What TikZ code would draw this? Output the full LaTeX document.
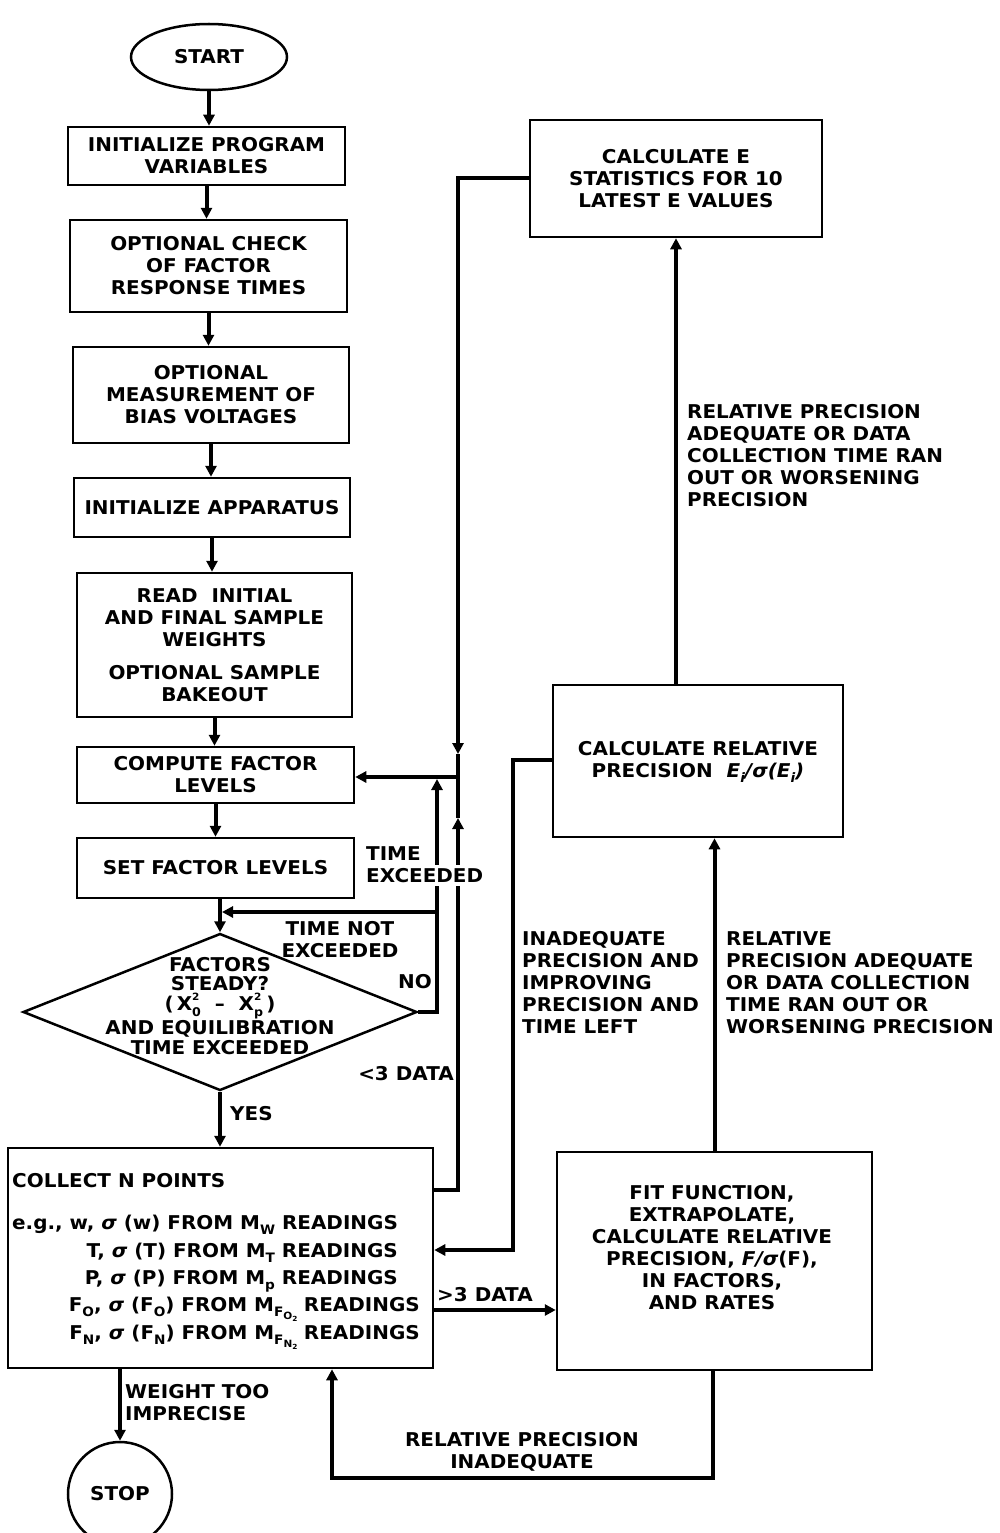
\documentclass[tikz,border=0pt]{standalone}
\usepackage{fontspec}
\setmainfont{DejaVu Sans}[FakeStretch=1.05]
\usetikzlibrary{arrows.meta,shapes.geometric,calc}
\newcommand{\sbA}[1]{\raisebox{-5pt}[0pt][0pt]{\fontsize{13}{13}\selectfont #1}}
\newcommand{\sbB}[1]{\raisebox{-3pt}[0pt][0pt]{\fontsize{10}{10}\selectfont #1}}
\newcommand{\xsubsup}[2]{\rlap{\raisebox{10pt}[0pt][0pt]{\fontsize{10}{10}\selectfont #2}}\raisebox{-6pt}[0pt][0pt]{\fontsize{12}{12}\selectfont #1}}
\begin{document}
\begin{tikzpicture}[x=1pt,y=-1pt,
  txt/.style={font=\bfseries\fontsize{19}{22}\selectfont, align=center, inner sep=0pt},
  lbl/.style={txt, align=left},
  box/.style={txt, draw, line width=2.5pt, line join=miter},
  conn/.style={line width=4pt, line join=miter},
  arr/.style={conn, -{Triangle[length=11pt,width=11pt]}}]
\useasboundingbox (0,0) rectangle (999,1533);

% ---------- left column ----------
\node[box, ellipse, minimum width=156pt, minimum height=66pt] (start) at (209,57) {START};
\node[box, minimum width=277pt, minimum height=58pt] (init) at (206.5,156) {INITIALIZE PROGRAM\\VARIABLES};
\node[box, minimum width=277pt, minimum height=92pt] (check) at (208.5,266) {OPTIONAL CHECK\\OF FACTOR\\RESPONSE TIMES};
\node[box, minimum width=276pt, minimum height=96pt] (bias) at (211,395) {OPTIONAL\\MEASUREMENT OF\\BIAS VOLTAGES};
\node[box, minimum width=276pt, minimum height=59pt] (appar) at (212,507.5) {INITIALIZE APPARATUS};
\node[box, minimum width=275pt, minimum height=144pt] (read) at (214.5,645) {READ\ \ INITIAL\\AND FINAL SAMPLE\\WEIGHTS\\[11pt]OPTIONAL SAMPLE\\BAKEOUT};
\node[box, minimum width=277pt, minimum height=56pt] (compute) at (215.5,775) {COMPUTE FACTOR\\LEVELS};
\node[box, minimum width=277pt, minimum height=60pt] (setf) at (215.5,868) {SET FACTOR LEVELS};
\node[draw, diamond, line width=2.5pt, minimum width=394pt, minimum height=157pt, inner sep=0pt] (dec) at (220,1012) {};
\node[txt, anchor=north, font=\bfseries\fontsize{19}{19.5}\selectfont] (dectxt) at (220,957)
  {FACTORS\\STEADY?\\(\,X\xsubsup{0}{2}\ \ --\ \ X\xsubsup{p}{2}\,)\\[5pt]AND EQUILIBRATION\\TIME EXCEEDED};
\node[box, minimum width=425pt, minimum height=220pt] (collect) at (220.5,1258) {};
\node[box, circle, minimum size=104pt] (stop) at (120,1494) {STOP};

% collect box text
\node[lbl, anchor=north west] (c0) at (12,1173) {COLLECT N POINTS};
\node[lbl, anchor=north west] (c1) at (12,1215) {e.g., w, {\itshape σ} (w) FROM M\sbA{W} READINGS};
\node[lbl, anchor=north east] (c2) at (398,1243) {T, {\itshape σ} (T) FROM M\sbA{T} READINGS};
\node[lbl, anchor=north east] (c3) at (398,1270) {P, {\itshape σ} (P) FROM M\sbA{p} READINGS};
\node[lbl, anchor=north east] (c4) at (420,1297) {F\sbA{O}, {\itshape σ} (F\sbA{O}) FROM M\sbA{F\sbB{O\textsubscript{2}}}\hspace{6pt}READINGS};
\node[lbl, anchor=north east] (c5) at (420,1325) {F\sbA{N}, {\itshape σ} (F\sbA{N}) FROM M\sbA{F\sbB{N\textsubscript{2}}}\hspace{6pt}READINGS};

% ---------- right column ----------
\node[box, minimum width=292pt, minimum height=117pt] (calcE) at (676,178.5) {CALCULATE E\\STATISTICS FOR 10\\LATEST E VALUES};
\node[box, minimum width=290pt, minimum height=152pt] (calcRP) at (698,761) {CALCULATE RELATIVE\\PRECISION\ \ {\itshape E\sbA{i}/σ(E\sbA{i})}};
\node[box, minimum width=315pt, minimum height=218pt] (fit) at (714.5,1261) {};
\node[txt, anchor=north] (fittxt) at (712,1185) {FIT FUNCTION,\\EXTRAPOLATE,\\CALCULATE RELATIVE\\PRECISION, {\itshape F/σ}(F),\\IN FACTORS,\\AND RATES};

% ---------- coordinates ----------
\coordinate (jA) at (458,178);
\coordinate (mA) at (458,754);
\coordinate (jT) at (458,777);
\coordinate (mB) at (458,818);
\coordinate (jC) at (458,1190);
\coordinate (nA) at (437,1012);
\coordinate (nB) at (437,912);
\coordinate (nC) at (437,779);
\coordinate (iA) at (513,760);
\coordinate (iB) at (513,1250);
\coordinate (dA) at (495,1310);
\coordinate (fb) at (713,1478);
\coordinate (cb) at (332,1478);

% ---------- connectors ----------
\draw[arr] (start.south) -- (start.south |- init.north);
\draw[arr] (init.south) -- (init.south |- check.north);
\draw[arr] (check.south) -- (check.south |- bias.north);
\draw[arr] (bias.south) -- (bias.south |- appar.north);
\draw[arr] (appar.south) -- (appar.south |- read.north);
\draw[arr] (read.south) -- (read.south |- compute.north);
\draw[arr] (compute.south) -- (compute.south |- setf.north);
\draw[arr] (dec.north |- setf.south) -- (dec.north);
\draw[arr] (dec.south) -- (dec.south |- collect.north);
\draw[arr] (stop.north |- collect.south) -- (stop.north);

\draw[arr] (jA -| calcE.west) -- (jA) -- (mA);
\draw[arr] (mA) -- (jT) -- (jT -| compute.east);
\draw[arr] (jC -| collect.east) -- (jC) -- (mB);
\draw[conn] (mB) -- (jT);

\draw[conn] (dec.east) -- (nA) -- (nB);
\draw[arr] (nB) -- (nC);
\draw[arr, shorten >=2pt] (nB) -- (nB -| dec.north);

\draw[arr] (iA -| calcRP.west) -- (iA) -- (iB) -- (iB -| collect.east);
\draw[arr] (dA -| collect.east) -- (dA -| fit.west);
\draw[arr] (fit.north) -- (fit.north |- calcRP.south);
\draw[arr] (calcRP.north -| calcE.south) -- (calcE.south);
\draw[arr] (fb |- fit.south) -- (fb) -- (cb) -- (cb |- collect.south);

% ---------- labels ----------
\node[lbl, anchor=north west] (lTime) at (366,846) {TIME};
\node[lbl, anchor=north west, fill=white, inner ysep=3pt] (lExc) at (366,865) {EXCEEDED};
\node[txt, anchor=north] (lNotExc) at (340,921) {TIME NOT\\EXCEEDED};
\node[lbl, anchor=north east] (lNo) at (432,974) {NO};
\node[lbl, anchor=north] (lLess) at (406,1066) {<3 DATA};
\node[lbl, anchor=north west] (lYes) at (230,1106) {YES};
\node[lbl, anchor=north west] (lMore) at (437,1287) {>3 DATA};
\node[lbl, anchor=north west] (lWeight) at (125,1384) {WEIGHT TOO\\IMPRECISE};
\node[txt, anchor=north] (lRelInad) at (522,1432) {RELATIVE PRECISION\\INADEQUATE};
\node[lbl, anchor=north west] (lInad) at (522,931) {INADEQUATE\\PRECISION AND\\IMPROVING\\PRECISION AND\\TIME LEFT};
\node[lbl, anchor=north west] (lAdeq2) at (726,931) {RELATIVE\\PRECISION ADEQUATE\\OR DATA COLLECTION\\TIME RAN OUT OR\\WORSENING PRECISION};
\node[lbl, anchor=north west] (lAdeq1) at (687,404) {RELATIVE PRECISION\\ADEQUATE OR DATA\\COLLECTION TIME RAN\\OUT OR WORSENING\\PRECISION};
\end{tikzpicture}
\end{document}
